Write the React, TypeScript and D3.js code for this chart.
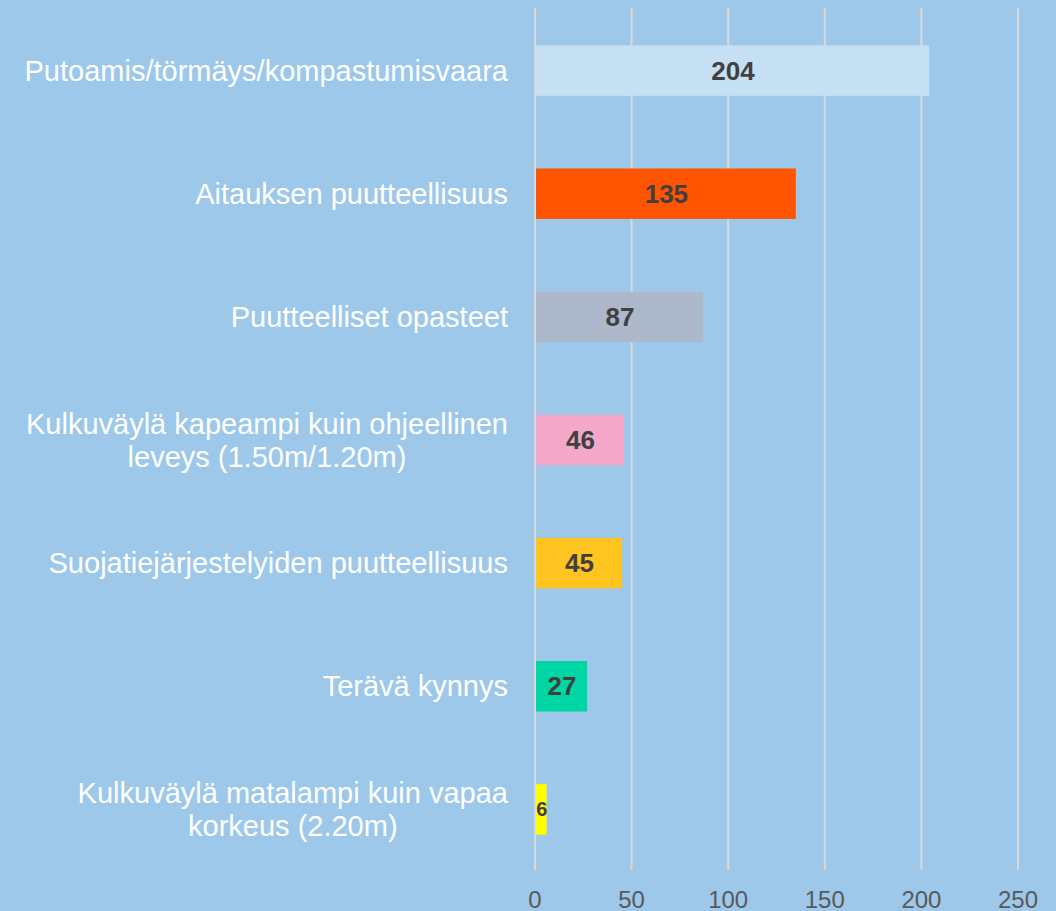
import React, { useEffect, useRef } from 'react';
import * as d3 from 'd3';

const categories = [
  'Putoamis/törmäys/kompastumisvaara',
  'Aitauksen puutteellisuus',
  'Puutteelliset opasteet',
  'Kulkuväylä kapeampi kuin ohjeellinen\nleveys (1.50m/1.20m)',
  'Suojatiejärjestelyiden puutteellisuus',
  'Terävä kynnys',
  'Kulkuväylä matalampi kuin vapaa\nkorkeus (2.20m)',
];
const values = [204, 135, 87, 46, 45, 27, 6];
const barColors = ['#C5E0F3', '#FF5500', '#ADB9CA', '#F4A7C9', '#FFC41F', '#00D6A4', '#FFFF00'];
const ticks = [0, 50, 100, 150, 200, 250];

const W = 1056;
const H = 911;

const App = () => {
  const ref = useRef<SVGSVGElement>(null);

  useEffect(() => {
    const margin = { top: 8, right: 38, bottom: 41, left: 535 };
    const width = W - margin.left - margin.right;
    const height = H - margin.top - margin.bottom;

    const svg = d3.select(ref.current);
    svg.selectAll('*').remove();

    svg.append('rect').attr('width', W).attr('height', H).attr('fill', '#9DC8EA');

    const g = svg.append('g').attr('transform', `translate(${margin.left},${margin.top})`);

    const x = d3.scaleLinear().domain([0, 250]).range([0, width]);
    const y = d3.scaleBand<number>()
      .domain(d3.range(categories.length))
      .range([0, height])
      .paddingInner(0.59)
      .paddingOuter(0.295);

    // vertical grid lines
    g.append('g')
      .selectAll('line')
      .data(ticks)
      .join('line')
      .attr('x1', d => x(d))
      .attr('x2', d => x(d))
      .attr('y1', 0)
      .attr('y2', height)
      .attr('stroke', '#D9D9D9')
      .attr('stroke-width', 2);

    // tick labels
    g.append('g')
      .selectAll('text')
      .data(ticks)
      .join('text')
      .attr('x', d => x(d))
      .attr('y', height + 30)
      .attr('dy', '0.35em')
      .attr('text-anchor', 'middle')
      .attr('fill', '#595959')
      .style('font-family', '"Liberation Sans", Arial, sans-serif')
      .style('font-size', '24px')
      .text(d => d);

    // bars
    g.append('g')
      .selectAll('rect')
      .data(values)
      .join('rect')
      .attr('x', 1)
      .attr('y', (d, i) => y(i)! + 1)
      .attr('width', d => x(d) - 1)
      .attr('height', y.bandwidth())
      .attr('fill', (d, i) => barColors[i]);

    // value labels
    g.append('g')
      .selectAll('text')
      .data(values)
      .join('text')
      .attr('x', d => x(d) / 2 + 1)
      .attr('y', (d, i) => y(i)! + y.bandwidth() / 2 + 1)
      .attr('dy', '0.35em')
      .attr('text-anchor', 'middle')
      .attr('fill', '#404040')
      .style('font-family', '"Liberation Sans", Arial, sans-serif')
      .style('font-size', d => (d < 10 ? '20px' : '26px'))
      .style('font-weight', 'bold')
      .text(d => d);

    // category labels, multi-line ones centred on their longest line
    const labelRight = margin.left - 27;
    const lineH = 33;
    categories.forEach((c, i) => {
      const lines = c.split('\n');
      const cy = margin.top + y(i)! + y.bandwidth() / 2 + 1;
      const t = svg.append('text')
        .attr('fill', '#FFFFFF')
        .style('font-family', '"Liberation Sans", Arial, sans-serif')
        .style('font-size', '29px');
      const spans = lines.map((l, k) =>
        t.append('tspan')
          .attr('y', cy + (k - (lines.length - 1) / 2) * lineH)
          .attr('dy', '0.35em')
          .text(l)
      );
      const widths = spans.map(s => (s.node() as SVGTSpanElement).getComputedTextLength());
      const maxW = d3.max(widths) ?? 0;
      spans.forEach(s => s.attr('x', labelRight - maxW / 2).attr('text-anchor', 'middle'));
    });
  }, []);

  return <svg ref={ref} width={W} height={H} style={{ display: 'block', position: 'absolute', left: 0, top: 0 }} />;
};

export default App;
